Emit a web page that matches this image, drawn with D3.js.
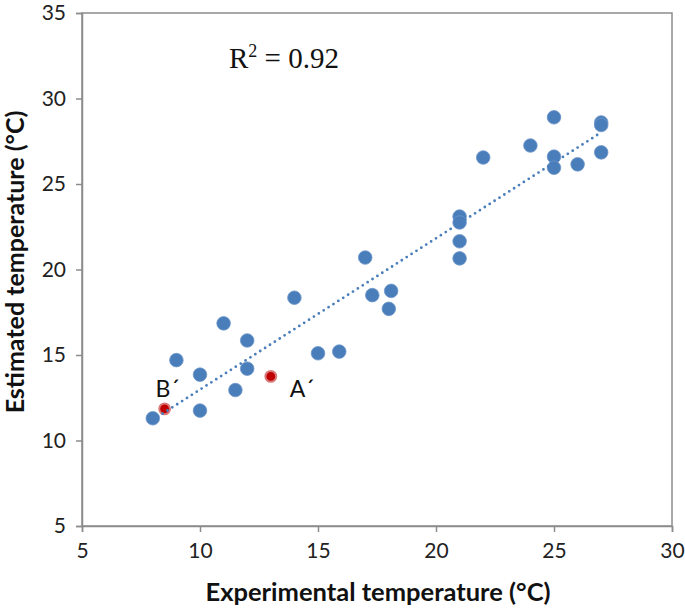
<!DOCTYPE html>
<html>
<head>
<meta charset="utf-8">
<script src="https://cdn.jsdelivr.net/npm/d3@7"></script>
<style>
  body { margin: 0; background: #fff; }
  svg { display: block; }
  .tick text { font-family: Lato, "Open Sans", sans-serif; font-size: 21px; fill: #222; }
</style>
</head>
<body>
<div id="chart"></div>
<script>
// experimental vs estimated temperature
var expTemp = [8, 9, 10, 10, 11, 11.5, 12, 12, 14, 15, 15.9, 17, 17.3, 18.1, 18,
  21, 21, 21, 21, 22, 24, 25, 25, 25, 26, 27, 27, 27];
var estTemp = [11.3, 14.7, 13.85, 11.75, 16.85, 12.95, 15.85, 14.2, 18.35, 15.1, 15.2, 20.7, 18.5, 18.75, 17.7,
  23.1, 22.75, 21.65, 20.65, 26.55, 27.25, 28.9, 26.6, 25.95, 26.15, 28.6, 28.45, 26.85];

// the two highlighted samples
var markedLabels = ['B´', 'A´'];
var markedExp = [8.5, 13];
var markedEst = [11.85, 13.75];

var xTicks = [5, 10, 15, 20, 25, 30];
var yTicks = [5, 10, 15, 20, 25, 30, 35];

var width = 685, height = 611;
var margin = { top: 13, right: 13, bottom: 85, left: 82 };

var svg = d3.select('#chart').append('svg')
  .attr('width', width)
  .attr('height', height);

var x = d3.scaleLinear().domain([5, 30]).range([margin.left, width - margin.right]);
var y = d3.scaleLinear().domain([5, 35]).range([height - margin.bottom, margin.top]);

// plot frame
svg.append('rect')
  .attr('x', x(5)).attr('y', y(35))
  .attr('width', x(30) - x(5)).attr('height', y(5) - y(35))
  .attr('fill', 'none')
  .attr('stroke', '#8c8c8c')
  .attr('stroke-width', 1.5);

var xAxis = svg.append('g')
  .attr('transform', 'translate(0,' + y(5) + ')')
  .call(d3.axisBottom(x).tickValues(xTicks).tickSize(6).tickPadding(11));
var yAxis = svg.append('g')
  .attr('transform', 'translate(' + x(5) + ',0)')
  .call(d3.axisLeft(y).tickValues(yTicks).tickSize(6).tickPadding(10));

[xAxis, yAxis].forEach(function (g) {
  g.select('.domain').attr('stroke', '#8c8c8c').attr('stroke-width', 1.5);
  g.selectAll('.tick line').attr('stroke', '#8c8c8c').attr('stroke-width', 1.5);
});

// all points for the least-squares trendline
var allX = expTemp.concat(markedExp);
var allY = estTemp.concat(markedEst);
var mx = d3.mean(allX), my = d3.mean(allY);
var slope = d3.sum(allX, function (v, i) { return (v - mx) * (allY[i] - my); }) /
  d3.sum(allX, function (v) { return (v - mx) * (v - mx); });
var intercept = my - slope * mx;

svg.append('g').selectAll('circle')
  .data(expTemp)
  .join('circle')
  .attr('cx', function (d) { return x(d); })
  .attr('cy', function (d, i) { return y(estTemp[i]); })
  .attr('r', 6.8)
  .attr('fill', '#4a7ebb')
  .attr('stroke', '#6f97c9')
  .attr('stroke-width', 0.8);

svg.append('g').selectAll('circle')
  .data(markedExp)
  .join('circle')
  .attr('cx', function (d) { return x(d); })
  .attr('cy', function (d, i) { return y(markedEst[i]); })
  .attr('r', 5.4)
  .attr('fill', '#c00000')
  .attr('stroke', '#d97a7a')
  .attr('stroke-width', 2);

var xMin = d3.min(allX), xMax = d3.max(allX);
svg.append('line')
  .attr('x1', x(xMin)).attr('y1', y(intercept + slope * xMin))
  .attr('x2', x(xMax)).attr('y2', y(intercept + slope * xMax))
  .attr('stroke', '#4a7ebb')
  .attr('stroke-width', 2.8)
  .attr('stroke-linecap', 'round')
  .attr('stroke-dasharray', '0,5.8');

svg.append('g').selectAll('text')
  .data(markedLabels)
  .join('text')
  .attr('x', function (d, i) { return x(markedExp[i]) + (i === 0 ? 3 : 19); })
  .attr('y', function (d, i) { return y(markedEst[i]) + (i === 0 ? -12 : 21); })
  .attr('text-anchor', function (d, i) { return i === 0 ? 'middle' : 'start'; })
  .attr('font-family', 'Lato, "Open Sans", sans-serif')
  .attr('font-size', 23)
  .attr('fill', '#111')
  .text(function (d) { return d; });

// R² annotation
var r2 = svg.append('text')
  .attr('x', 229).attr('y', 68)
  .attr('font-family', '"Liberation Serif", "DejaVu Serif", serif')
  .attr('font-size', 29)
  .attr('fill', '#111');
r2.append('tspan').text('R');
r2.append('tspan').attr('dy', -11).attr('font-size', 18).text('2');
r2.append('tspan').attr('dy', 11).text(' = 0.92');

svg.append('text')
  .attr('x', 378)
  .attr('y', 601)
  .attr('text-anchor', 'middle')
  .attr('font-family', 'Lato, "Open Sans", sans-serif')
  .attr('font-weight', 'bold')
  .attr('font-size', 25.5)
  .attr('fill', '#111')
  .text('Experimental temperature (°C)');

svg.append('text')
  .attr('transform', 'translate(24,262) rotate(-90)')
  .attr('text-anchor', 'middle')
  .attr('font-family', 'Lato, "Open Sans", sans-serif')
  .attr('font-weight', 'bold')
  .attr('font-size', 25)
  .attr('fill', '#111')
  .text('Estimated temperature (°C)');
</script>
</body>
</html>
